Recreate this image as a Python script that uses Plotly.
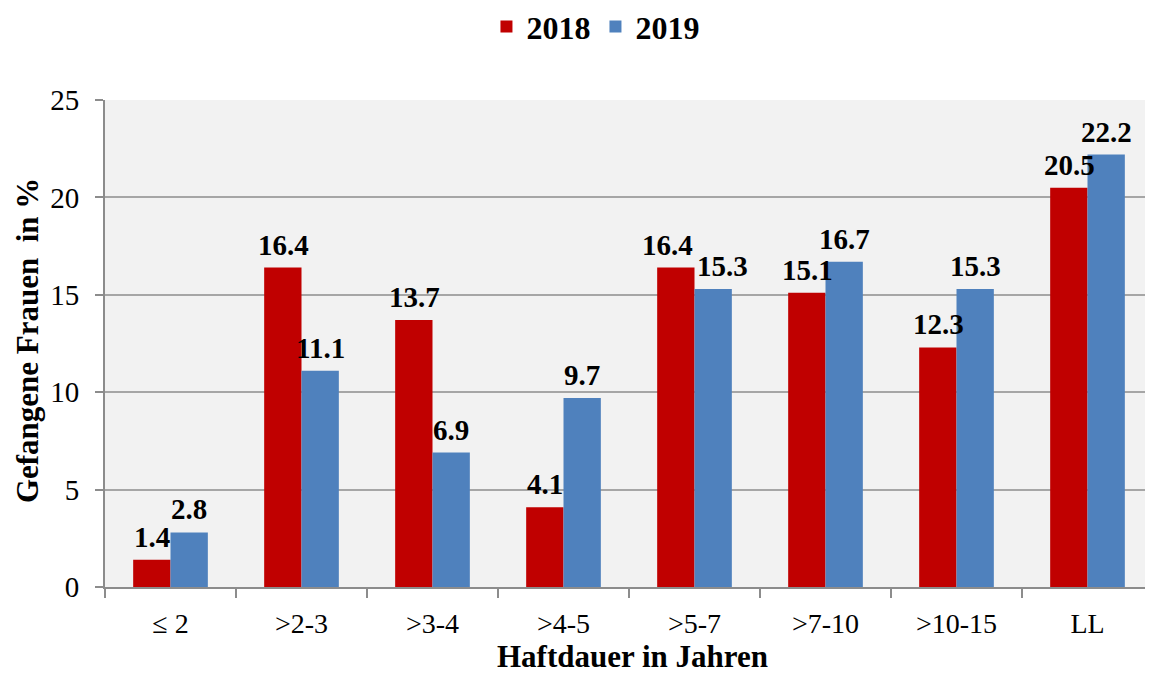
import plotly.graph_objects as go

# Haftdauer-Kategorien und Anteile (%)
categories = ["\u2264 2", ">2-3", ">3-4", ">4-5", ">5-7", ">7-10", ">10-15", "LL"]
values_2018 = [1.4, 16.4, 13.7, 4.1, 16.4, 15.1, 12.3, 20.5]
values_2019 = [2.8, 11.1, 6.9, 9.7, 15.3, 16.7, 15.3, 22.2]
y_ticks = [0, 5, 10, 15, 20, 25]

serif = "Liberation Serif, Times New Roman, serif"
label_font = dict(family=serif, size=29, color="black", weight="bold")
title_font = dict(family=serif, size=31, color="black", weight="bold")

fig = go.Figure()
fig.add_trace(go.Bar(
    x=categories, y=values_2018, name="2018",
    marker=dict(color="#C00000", line=dict(width=0)),
))
fig.add_trace(go.Bar(
    x=categories, y=values_2019, name="2019",
    marker=dict(color="#4F81BD", line=dict(width=0)),
))

# Datenbeschriftungen über den Balken (bei fast gleicher Höhe etwas auseinanderrücken)
bar_shift = 18.5
annotations = []
for cat, a, b in zip(categories, values_2018, values_2019):
    spread = 9 if abs(a - b) < 1.3 else 0
    for v, dx in [(a, -bar_shift - spread), (b, bar_shift + spread)]:
        annotations.append(dict(
            x=cat, y=v, xref="x", yref="y", text=f"{v:.1f}",
            showarrow=False, xshift=dx, yanchor="bottom", yshift=5,
            font=label_font,
        ))

# Achsentitel
annotations.append(dict(
    text="Haftdauer in Jahren", xref="paper", yref="paper",
    x=0.503, y=-0.143, xanchor="center", yanchor="middle",
    showarrow=False, font=title_font,
))
annotations.append(dict(
    text="Gefangene Frauen  in %", xref="paper", yref="paper",
    x=-0.0744, y=0.507, xanchor="center", yanchor="middle", textangle=-90,
    showarrow=False, font=title_font,
))

# Seite hat 8px Rand -> Figur etwas kleiner
fig.update_layout(
    width=1145, height=668,
    margin=dict(l=97, r=0, t=92, b=89),
    paper_bgcolor="white",
    plot_bgcolor="#F2F2F2",
    barmode="group",
    bargap=0.43,
    bargroupgap=0,
    font=dict(family=serif, size=28, color="black"),
    legend=dict(
        orientation="h", x=0.468, xanchor="center",
        yref="container", y=0.972, yanchor="middle",
        font=dict(family=serif, size=32, color="black", weight="bold"),
        traceorder="normal", itemwidth=30,
    ),
    xaxis=dict(
        automargin=False,
        showline=True, linecolor="#8C8C8C", linewidth=2,
        ticks="outside", tickson="boundaries", ticklen=9, tickcolor="#8C8C8C", tickwidth=2,
        tickfont=dict(family=serif, size=28),
        ticklabelstandoff=10,
        showgrid=False,
    ),
    yaxis=dict(
        automargin=False,
        range=[0, 25], tickvals=y_ticks,
        showline=True, linecolor="#8C8C8C", linewidth=2,
        ticks="outside", ticklen=8, tickcolor="#8C8C8C", tickwidth=2,
        showgrid=True, gridcolor="#A6A6A6", gridwidth=1.5,
        tickfont=dict(family=serif, size=29),
        ticklabelstandoff=10,
        zeroline=False,
    ),
    annotations=annotations,
)

fig.write_html("out.html")
